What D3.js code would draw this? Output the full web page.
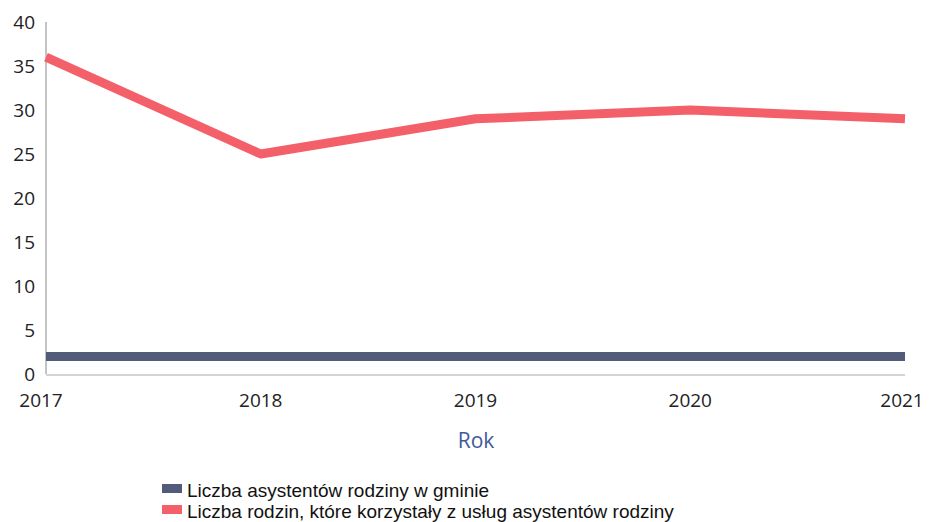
<!DOCTYPE html>
<html><head><meta charset="utf-8">
<script src="https://cdn.jsdelivr.net/npm/d3@7"></script>
<style>body{margin:0;background:#fff}svg{display:block}</style>
</head><body>
<script>
const years = ["2017","2018","2019","2020","2021"];
const asystenci = [2, 2, 2, 2, 2];
const rodziny = [36, 25, 29, 30, 29];
const yTicks = [0,5,10,15,20,25,30,35,40];
const seriesNames = ["Liczba asystentów rodziny w gminie","Liczba rodzin, które korzystały z usług asystentów rodziny"];
const seriesColors = ["#525c7a","#f4606a"];

const W=929,H=522;
const svg=d3.select("body").append("svg").attr("width",W).attr("height",H);
const x=d3.scalePoint().domain(years).range([46,905]);
const y=d3.scaleLinear().domain([0,40]).range([374,22]);

svg.append("line").attr("x1",46).attr("x2",46).attr("y1",y(40)).attr("y2",y(0)).attr("stroke","#888").attr("stroke-width",1);
svg.append("line").attr("x1",46).attr("x2",905).attr("y1",y(0)+1).attr("y2",y(0)+1).attr("stroke","#aaa").attr("stroke-width",1);

const font="'Open Sans', 'Noto Sans', sans-serif";
svg.append("g").selectAll("text").data(yTicks).join("text")
 .attr("x",35).attr("y",d=>y(d)).attr("dy","0.35em").attr("text-anchor","end")
 .attr("font-family",font).attr("font-size",19).attr("fill","#222").text(d=>d);
svg.append("g").selectAll("text").data(years).join("text")
 .attr("x",(d,i)=>x(d)+(i===0?-5:(i===4?-3:0))).attr("y",407).attr("text-anchor","middle")
 .attr("font-family",font).attr("font-size",19).attr("fill","#222").text(d=>d);

svg.append("text").attr("x",476).attr("y",448).attr("text-anchor","middle")
 .attr("font-family",font).attr("font-size",21).attr("fill","#3f5a9a").text("Rok");

const line=d3.line().x((d,i)=>x(years[i])).y(d=>y(d));
[rodziny,asystenci].forEach((s,k)=>{
  svg.append("path").datum(s).attr("d",line).attr("fill","none")
   .attr("stroke",k===0?seriesColors[1]:seriesColors[0]).attr("stroke-width",9)
   .attr("stroke-linejoin","round");
});

const lg=svg.append("g");
seriesNames.forEach((n,i)=>{
  const yy=497+i*21;
  lg.append("rect").attr("x",162).attr("y",yy-13).attr("width",20).attr("height",9).attr("fill",seriesColors[i]);
  lg.append("text").attr("x",187).attr("y",yy).attr("font-family","'Liberation Sans', Arial, sans-serif")
   .attr("font-size",19).attr("fill","#111").text(n);
});
</script>
</body></html>
